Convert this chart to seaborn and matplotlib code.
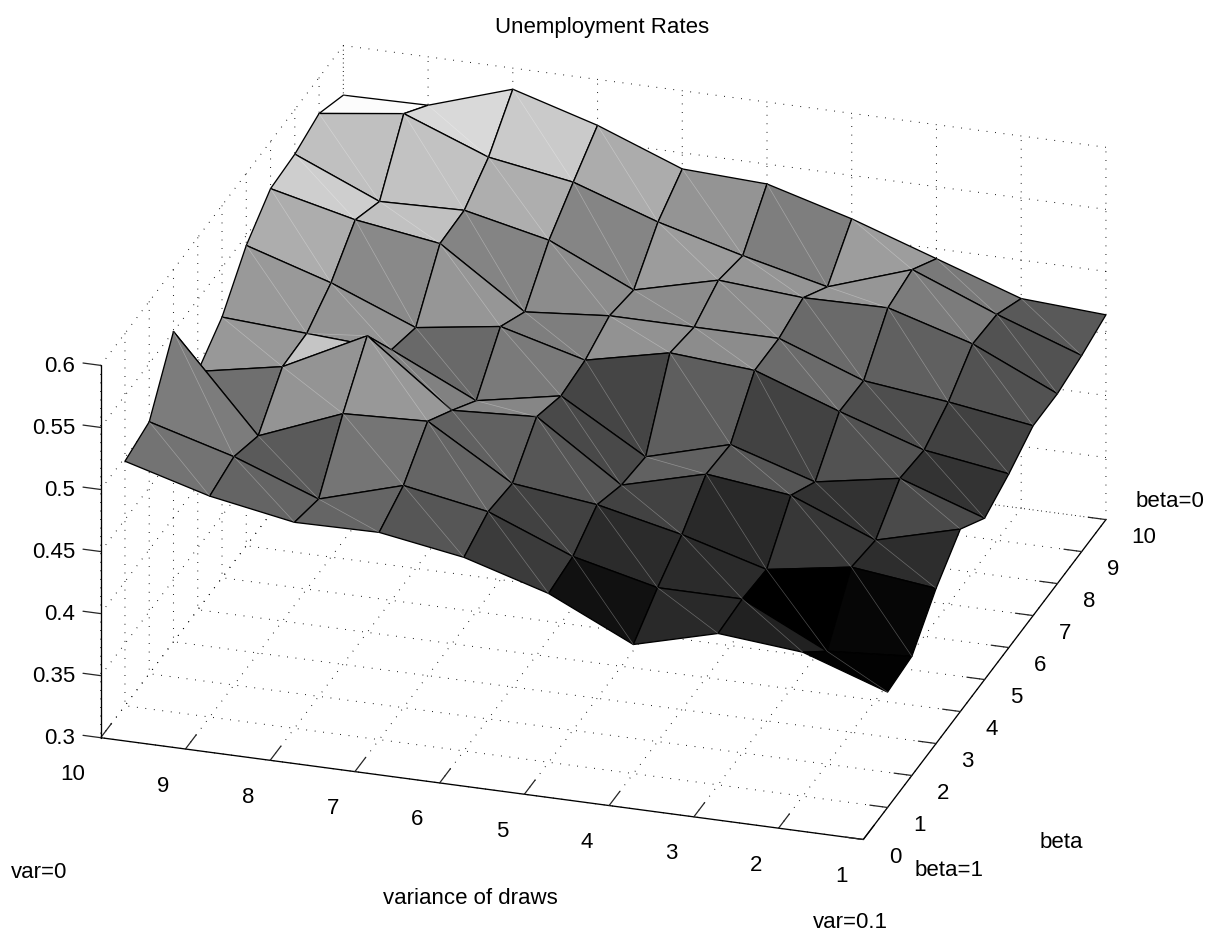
import numpy as np
import matplotlib
matplotlib.use("Agg")
import matplotlib.pyplot as plt
from matplotlib.colors import Normalize
from matplotlib.ticker import NullFormatter
from mpl_toolkits.mplot3d import proj3d
from mpl_toolkits.mplot3d.art3d import Line3DCollection
import seaborn as sns

# ---------- data: one list per variance index, beta index 1..10 ----------
var_ticks = [1, 2, 3, 4, 5, 6, 7, 8, 9, 10]
beta_ticks = [0, 1, 2, 3, 4, 5, 6, 7, 8, 9, 10]
rate_ticks = [0.3, 0.35, 0.4, 0.45, 0.5, 0.55, 0.6]
rate_tick_labels = ["0.3", "0.35", "0.4", "0.45", "0.5", "0.55", "0.6"]
var_grid = [1, 2, 3, 4, 5, 6, 7, 8, 9, 10]
beta_grid = [1, 2, 3, 4, 5, 6, 7, 8, 9, 10]

rate_var1 = [.393, .396, .425, .447, .430, .440, .453, .453, .458, .465]
rate_var2 = [.416, .391, .433, .429, .453, .450, .463, .484, .482, .469]
rate_var3 = [.422, .424, .422, .456, .441, .472, .471, .504, .509, .492]
rate_var4 = [.404, .424, .441, .464, .462, .496, .496, .503, .486, .515]
rate_var5 = [.436, .440, .456, .446, .443, .501, .496, .508, .502, .534]
rate_var6 = [.456, .467, .464, .492, .483, .486, .496, .491, .520, .537]
rate_var7 = [.467, .479, .505, .488, .470, .504, .490, .522, .543, .563]
rate_var8 = [.466, .459, .502, .539, .502, .494, .536, .537, .554, .583]
rate_var9 = [.478, .484, .475, .505, .506, .521, .546, .535, .580, .561]
rate_var10 = [.497, .503, .550, .492, .510, .542, .562, .564, .571, .560]

title_text = "Unemployment Rates"
x_label = "variance of draws"
y_label = "beta"

W, H = 1216, 935
sns.set_theme(style="white", rc={
    "grid.linestyle": (0, (0.8, 7.4)), "grid.color": "black", "grid.linewidth": 0.75,
    "axes3d.grid": True,
})
plt.rcParams["font.family"] = ["Liberation Sans", "DejaVu Sans"]
plt.rcParams["font.size"] = 16

Z = np.array([rate_var1, rate_var2, rate_var3, rate_var4, rate_var5, rate_var6,
              rate_var7, rate_var8, rate_var9, rate_var10]).T
X, Y = np.meshgrid(var_grid, beta_grid)

fig = plt.figure(figsize=(W / 100, H / 100), dpi=100)
side = 1300.0
ax = fig.add_axes([0, 0, side / W, side / H], projection="3d",
                  proj_type="ortho", computed_zorder=False)
ax.view_init(elev=24.8, azim=-72.35)
ax.set_box_aspect((1, 1, 0.5125))

gray = sns.color_palette("gray", as_cmap=True)
norm = Normalize(Z.min(), Z.max())
ax.plot_surface(X, Y, Z, rstride=1, cstride=1, facecolors=gray(norm(Z)), shade=False,
                edgecolor="black", linewidth=0.95, antialiased=True, zorder=1)

# faint facet diagonals inside every mesh cell
segs = []
for r in range(Z.shape[0] - 1):
    for c in range(Z.shape[1] - 1):
        if (c, r) in {(8, 2)}:
            continue
        segs.append([(X[r, c], Y[r, c], Z[r, c]),
                     (X[r + 1, c + 1], Y[r + 1, c + 1], Z[r + 1, c + 1])])
diag = Line3DCollection(segs, colors=[(1, 1, 1, 0.30)], linewidths=0.5, zorder=2)
ax.add_collection3d(diag)

ax.set_xlim(10, 1, view_margin=0)
ax.set_ylim(0, 10, view_margin=0)
ax.set_zlim(0.3, 0.6, view_margin=0)
ax.set_xticks(var_ticks)
ax.set_yticks(beta_ticks)
ax.set_zticks(rate_ticks)
ax.zaxis.set_ticks_position("lower")
ax.zaxis._get_tickdir = lambda position: 0   # z ticks run along the var direction

for axis in (ax.xaxis, ax.yaxis, ax.zaxis):
    axis.set_major_formatter(NullFormatter())
    axis.set_pane_color((1, 1, 1, 0))
    axis.pane.set_edgecolor("none")
    axis.line.set_color("black")
    axis.line.set_linewidth(0.95)
    axis._axinfo["tick"]["inward_factor"] = 0
    axis._axinfo["tick"]["linewidth"] = {True: 0.9, False: 0.9}
    axis._axinfo["tick"]["color"] = "black"
ax.xaxis._axinfo["tick"]["outward_factor"] = 0.56
ax.yaxis._axinfo["tick"]["outward_factor"] = 0.29
ax.zaxis._axinfo["tick"]["outward_factor"] = 0.29


def corner(x, y, z):
    xs, ys, _ = proj3d.proj_transform(x, y, z, ax.get_proj())
    return ax.transData.transform((xs, ys))


# fit the axes so the box corners land where they belong
ax.apply_aspect()
p10, p1 = corner(10, 0, 0.3), corner(1, 0, 0.3)
scale = (863.3 - 100.7) / (p1[0] - p10[0])
side *= scale
ax.set_position([0, 0, side / W, side / H])
ax.apply_aspect()
p10 = corner(10, 0, 0.3)
dx, dy = 100.7 - p10[0], (H - 737.7) - p10[1]
ax.set_position([dx / W, dy / H, side / W, side / H])
ax.apply_aspect()


def label(text, cx, cy):
    fig.text(cx / W, 1 - cy / H, text, ha="center", va="center", fontsize=16, color="black")


def tick_label(text, xyz, ha):
    px = corner(*xyz)
    fig.text(px[0] / W, px[1] / H, text, ha=ha, va="center", fontsize=16, color="black")


# tick labels, placed through the 3D projection just beyond each axis
for v in var_ticks:
    tick_label(str(v), (v, -0.66, 0.2872), "right")
for b in beta_ticks:
    tick_label(str(b), (0.70, b, 0.2886), "left")
for r, txt in zip(rate_ticks, rate_tick_labels):
    tick_label(txt, (10.30, 0, r - 0.0035), "right")

label(title_text, 602, 28)
label(x_label, 470, 898)
label(y_label, 1061, 842)
label("var=0", 39, 873)
label("var=0.1", 850, 923)
label("beta=1", 949, 870)
label("beta=0", 1170, 501)

fig.savefig("out.png", dpi=100, facecolor="white")
